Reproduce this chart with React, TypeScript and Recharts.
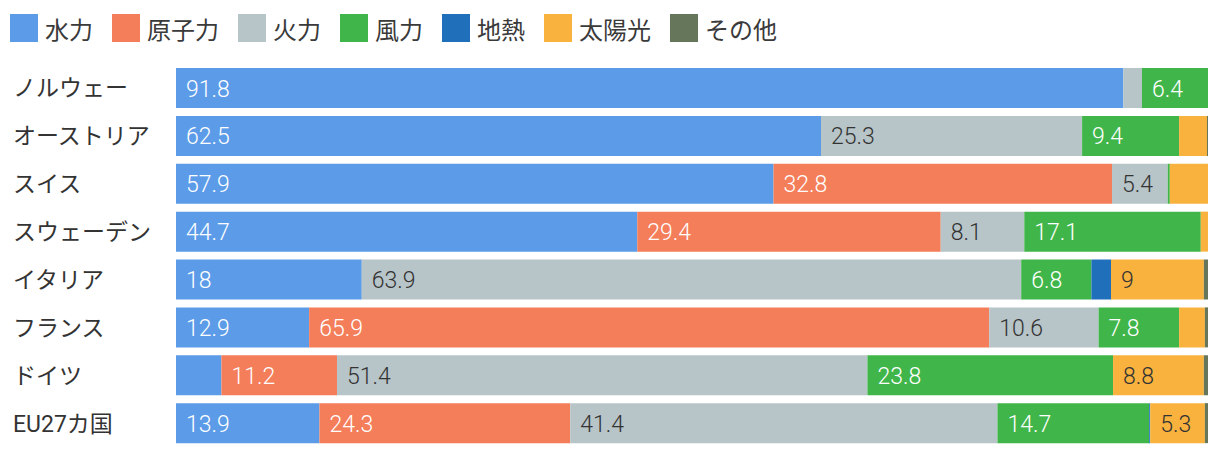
import React from 'react';
import { BarChart, Bar, XAxis, YAxis, LabelList } from 'recharts';

// countries (top to bottom)
const countries = ['ノルウェー', 'オーストリア', 'スイス', 'スウェーデン', 'イタリア', 'フランス', 'ドイツ', 'EU27カ国'];

// share of electricity generation (%)
const hydro = [91.8, 62.5, 57.9, 44.7, 18, 12.9, 4.4, 13.9];
const nuclear = [0, 0, 32.8, 29.4, 0, 65.9, 11.2, 24.3];
const thermal = [1.8, 25.3, 5.4, 8.1, 63.9, 10.6, 51.4, 41.4];
const wind = [6.4, 9.4, 0.2, 17.1, 6.8, 7.8, 23.8, 14.7];
const geothermal = [0, 0, 0, 0, 1.9, 0, 0, 0.1];
const solar = [0, 2.7, 3.7, 0.7, 9, 2.5, 8.8, 5.3];
const other = [0, 0.1, 0, 0, 0.4, 0.3, 0.4, 0.3];

const FONT = "Roboto, 'Noto Sans CJK JP', sans-serif";

const SERIES = [
  { key: 'hydro', name: '水力', color: '#5b9be8', label: '#ffffff', values: hydro },
  { key: 'nuclear', name: '原子力', color: '#f47d5a', label: '#ffffff', values: nuclear },
  { key: 'thermal', name: '火力', color: '#b7c4c8', label: '#333333', values: thermal },
  { key: 'wind', name: '風力', color: '#40b64a', label: '#ffffff', values: wind },
  { key: 'geothermal', name: '地熱', color: '#1f6fba', label: '#ffffff', values: geothermal },
  { key: 'solar', name: '太陽光', color: '#f9b23e', label: '#333333', values: solar },
  { key: 'other', name: 'その他', color: '#65765a', label: '#ffffff', values: other },
];

const data = countries.map((c, i) => {
  const row: Record<string, any> = { country: c };
  SERIES.forEach(s => { row[s.key] = s.values[i]; });
  return row;
});

// values under 5% get no label
const makeLabel = (fill: string) => (props: any) => {
  const { x, y, height, value } = props;
  if (value === undefined || value < 5) return null;
  return (
    <text x={x + 10} y={y + height / 2 + 1} fill={fill} fontSize={23} fontFamily={FONT} fontWeight={300} dominantBaseline="central">
      {value}
    </text>
  );
};

const CountryTick = (props: any) => {
  const { y, payload } = props;
  return (
    <text x={13} y={y + 1} fill="#333" fontSize={23} fontFamily={FONT} textAnchor="start" dominantBaseline="central">
      {payload.value}
    </text>
  );
};

const ChartLegend = () => (
  <div style={{ position: 'absolute', left: 10, top: 14, display: 'flex', alignItems: 'center', height: 28, fontFamily: FONT, fontSize: 24, color: '#3a3a3a' }}>
    {SERIES.map(s => (
      <div key={s.key} style={{ display: 'flex', alignItems: 'center', marginRight: 19 }}>
        <span style={{ display: 'inline-block', width: 28, height: 28, background: s.color, marginRight: 7 }} />
        <span>{s.name}</span>
      </div>
    ))}
  </div>
);

export default function App() {
  return (
    <div style={{ position: 'absolute', left: 0, top: 0, width: 1220, height: 456, background: '#fff' }}>
      <ChartLegend />
      <BarChart
        width={1220}
        height={456}
        data={data}
        layout="vertical"
        margin={{ top: 64, right: 12, bottom: 9, left: 0 }}
        barSize={40}
      >
        <XAxis type="number" domain={[0, 100]} hide allowDataOverflow />
        <YAxis type="category" dataKey="country" width={176} axisLine={false} tickLine={false} tick={<CountryTick />} />
        {SERIES.map(s => (
          <Bar key={s.key} dataKey={s.key} name={s.name} stackId="a" fill={s.color} isAnimationActive={false}>
            <LabelList dataKey={s.key} content={makeLabel(s.label)} />
          </Bar>
        ))}
      </BarChart>
    </div>
  );
}
